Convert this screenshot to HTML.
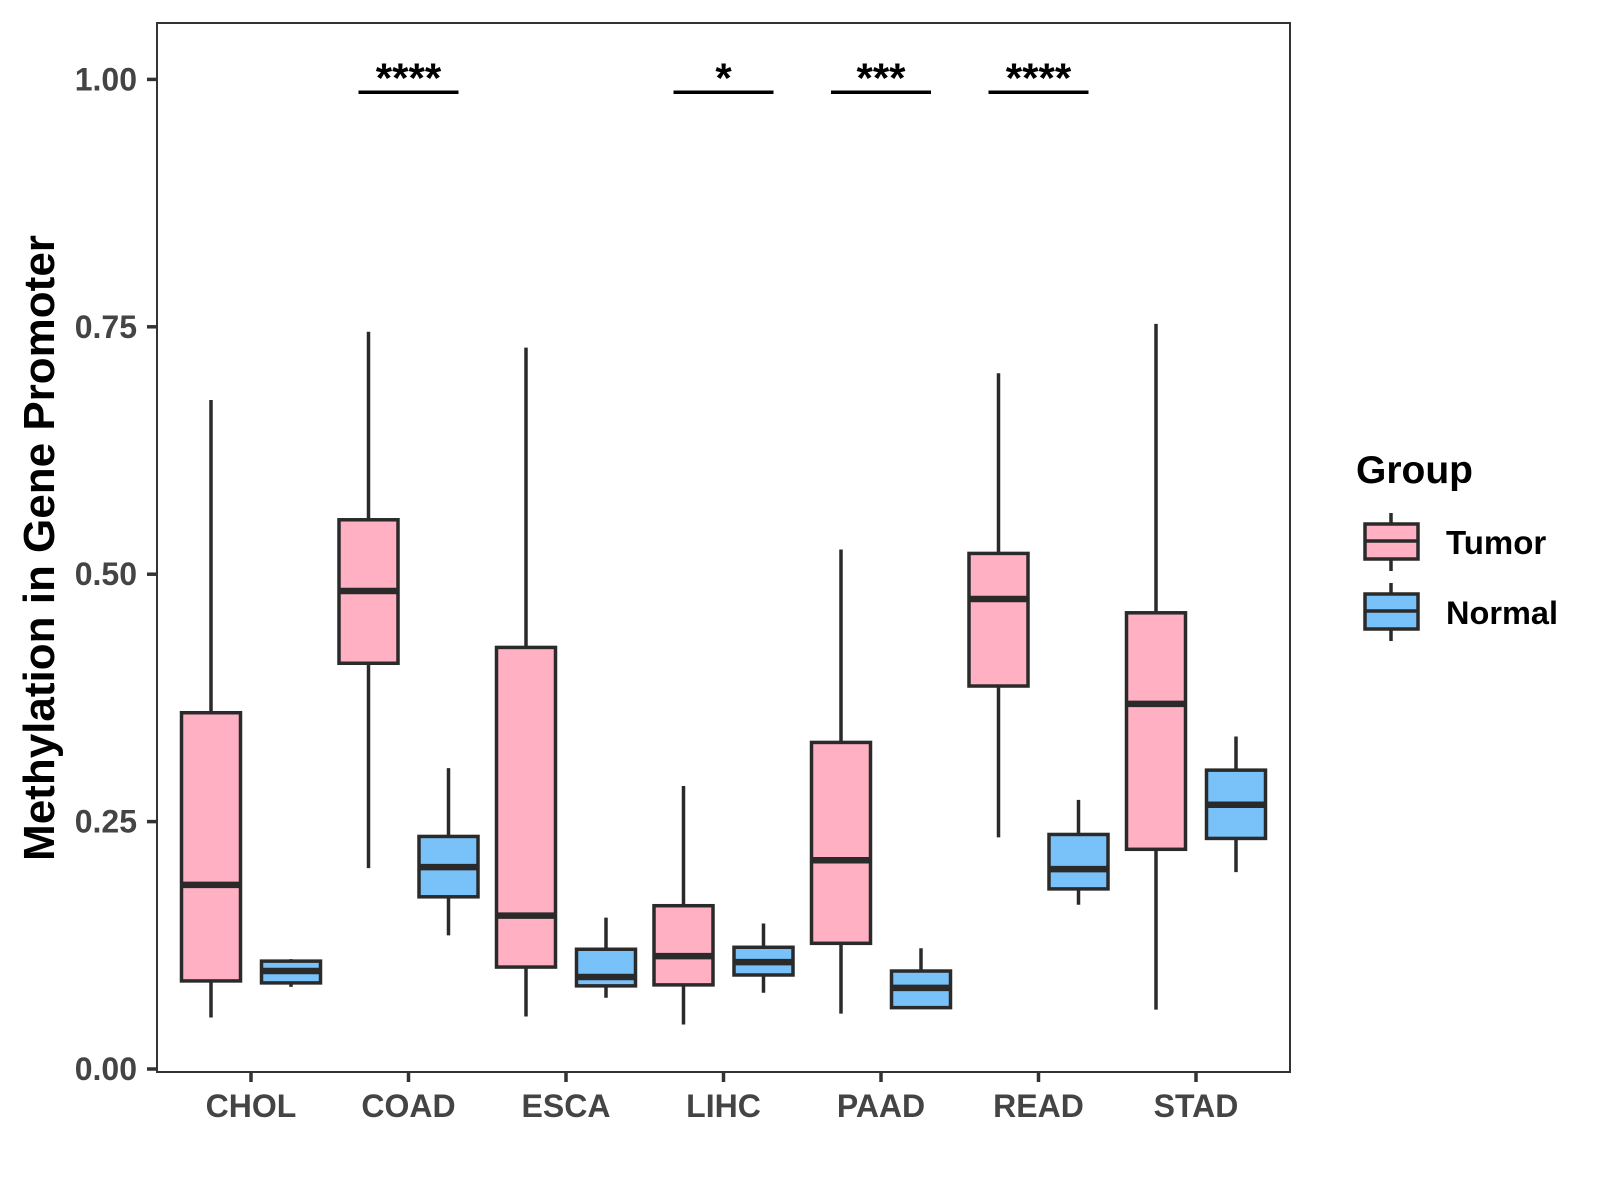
<!DOCTYPE html>
<html><head><meta charset="utf-8"><style>
body{margin:0;background:#fff}
svg{display:block;font-family:"Liberation Sans",Arial,sans-serif;font-weight:bold}
</style></head><body>
<svg id="chart" width="1600" height="1200" viewBox="0 0 1600 1200" xmlns="http://www.w3.org/2000/svg">
<rect x="0" y="0" width="1600" height="1200" fill="#fff"/>
<rect x="157" y="23" width="1133" height="1049" fill="none" stroke="#333" stroke-width="2"/>
<g id="marks"></g>
<g id="axes"></g>
<text transform="translate(54,548) rotate(-90)" text-anchor="middle" font-size="44" fill="#000">Methylation in Gene Promoter</text>
<g>
<text x="1356" y="483" font-size="39" fill="#000">Group</text>
<g>
<line x1="1391" y1="513" x2="1391" y2="571" stroke="#2a2a2a" stroke-width="3.5"/>
<rect x="1365" y="524" width="53" height="35" fill="#ffb0c3" stroke="#2a2a2a" stroke-width="3.5"/>
<line x1="1365" y1="541" x2="1418" y2="541" stroke="#2a2a2a" stroke-width="3.5"/>
<text x="1446" y="554" font-size="33" fill="#000">Tumor</text>
</g>
<g>
<line x1="1391" y1="583" x2="1391" y2="641" stroke="#2a2a2a" stroke-width="3.5"/>
<rect x="1365" y="594" width="53" height="35" fill="#79c2f9" stroke="#2a2a2a" stroke-width="3.5"/>
<line x1="1365" y1="611" x2="1418" y2="611" stroke="#2a2a2a" stroke-width="3.5"/>
<text x="1446" y="624" font-size="32.5" fill="#000">Normal</text>
</g>
</g>
</svg>
<script>
const categories = ["CHOL","COAD","ESCA","LIHC","PAAD","READ","STAD"];
// [low, q1, median, q3, high]
const tumorStats = [
 [0.052,0.089,0.186,0.360,0.676],
 [0.203,0.410,0.483,0.555,0.745],
 [0.053,0.103,0.155,0.426,0.729],
 [0.045,0.085,0.114,0.165,0.286],
 [0.056,0.127,0.211,0.330,0.525],
 [0.234,0.387,0.475,0.521,0.703],
 [0.060,0.222,0.369,0.461,0.753]
];
const normalStats = [
 [0.083,0.087,0.099,0.109,0.111],
 [0.135,0.174,0.204,0.235,0.304],
 [0.072,0.084,0.093,0.121,0.153],
 [0.077,0.095,0.108,0.123,0.147],
 [0.062,0.062,0.082,0.099,0.122],
 [0.166,0.182,0.202,0.237,0.272],
 [0.199,0.233,0.267,0.302,0.336]
];
const significance = ["","****","","*","***","****",""];
const yTicks = [0,0.25,0.5,0.75,1.0];
const yTickLabels = ["0.00","0.25","0.50","0.75","1.00"];
const bracketY = 0.987;

const NS="http://www.w3.org/2000/svg";
const yScale = v => 1069 - v*989.6;
const xScale = i => 251 + i*157.5;
const BW = 59, OFF = 40, BRW = 50;
const marks = document.getElementById('marks');
const axes = document.getElementById('axes');
function mk(tag, attrs, parent){const e=document.createElementNS(NS,tag);for(const k in attrs)e.setAttribute(k,attrs[k]);parent.appendChild(e);return e;}

function drawBox(cx, s, fill, name){
  const g = mk('g',{},marks);
  
  
  mk('line',{x1:cx,x2:cx,y1:yScale(s[4]),y2:yScale(s[0]),stroke:'#2a2a2a','stroke-width':3.5},g);
  mk('rect',{x:cx-BW/2,y:yScale(s[3]),width:BW,height:yScale(s[1])-yScale(s[3]),fill:fill,stroke:'#2a2a2a','stroke-width':3.5},g);
  mk('line',{x1:cx-BW/2,x2:cx+BW/2,y1:yScale(s[2]),y2:yScale(s[2]),stroke:'#2a2a2a','stroke-width':6.5},g);
}
categories.forEach((c,i)=>{
  const cx = xScale(i);
  drawBox(cx-OFF, tumorStats[i], '#ffb0c3', 'box-tumor-'+c.toLowerCase());
  drawBox(cx+OFF, normalStats[i], '#79c2f9', 'box-normal-'+c.toLowerCase());
  if(significance[i]){
    const g = mk('g',{},marks);
    
    
    mk('line',{x1:cx-BRW,x2:cx+BRW,y1:yScale(bracketY),y2:yScale(bracketY),stroke:'#000','stroke-width':3.5},g);
    const t = mk('text',{x:cx,y:yScale(bracketY),'text-anchor':'middle','font-size':42,fill:'#000'},g);
    t.textContent = significance[i];
  }
  const tk = mk('line',{x1:cx,x2:cx,y1:1073,y2:1082,stroke:'#333','stroke-width':3.5},axes);
  
  
  const lb = mk('text',{x:cx,y:1117,'text-anchor':'middle','font-size':32,fill:'#444'},axes);
  
  
  lb.textContent = c;
});
yTicks.forEach((v,i)=>{
  const y = yScale(v);
  const tk = mk('line',{x1:147,x2:156,y1:y,y2:y,stroke:'#333','stroke-width':3.5},axes);
  
  
  const lb = mk('text',{x:137,y:y+11,'text-anchor':'end','font-size':32,fill:'#444'},axes);
  
  
  lb.textContent = yTickLabels[i];
});
</script>
</body></html>
